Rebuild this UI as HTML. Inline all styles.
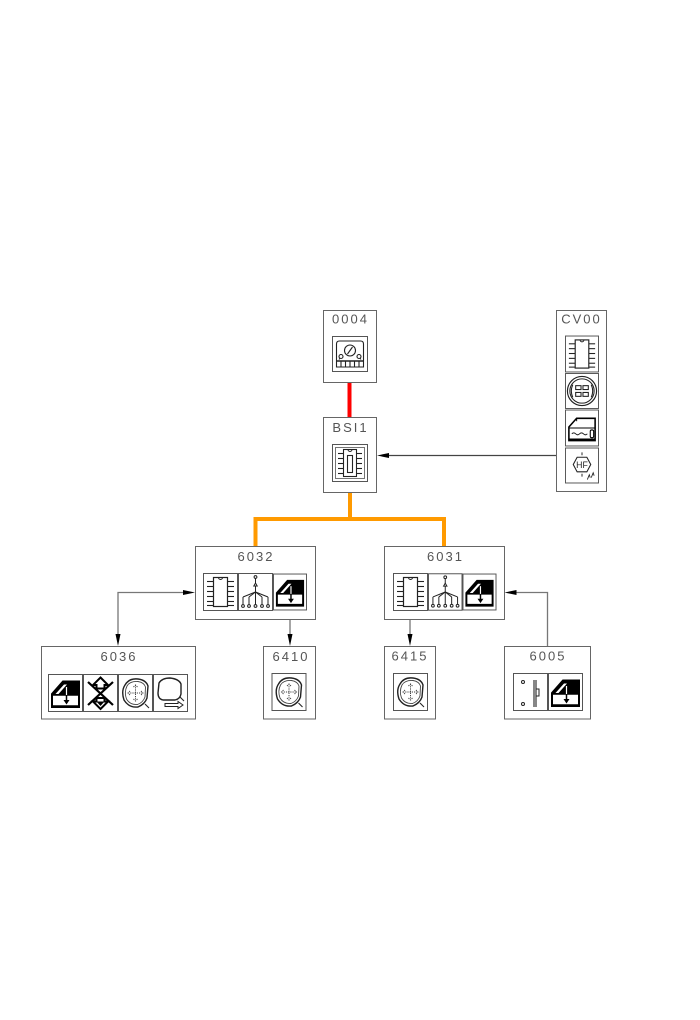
<!DOCTYPE html>
<html>
<head>
<meta charset="utf-8">
<style>
html,body{margin:0;padding:0;background:#fff;}
body{width:700px;height:1020px;overflow:hidden;}
svg{display:block;}
text{font-family:"Liberation Sans",sans-serif;font-size:13px;letter-spacing:2px;fill:#555;}
</style>
</head>
<body>
<svg width="700" height="1020" viewBox="0 0 700 1020" xmlns="http://www.w3.org/2000/svg">
<defs>
  <symbol id="chip" viewBox="0 0 35 38">
    <rect x="0.5" y="0.5" width="34" height="37" fill="#fff" stroke="#555" stroke-width="1"/>
    <rect x="10.5" y="4.5" width="14" height="29" fill="#fff" stroke="#222" stroke-width="1.2"/>
    <path d="M15.5 4.5 a2 2 0 0 0 4 0" fill="none" stroke="#222" stroke-width="1"/>
    <g stroke="#222" stroke-width="1.1">
      <line x1="4" y1="8.5" x2="10.5" y2="8.5"/><line x1="4" y1="13.5" x2="10.5" y2="13.5"/>
      <line x1="4" y1="18.5" x2="10.5" y2="18.5"/><line x1="4" y1="23.5" x2="10.5" y2="23.5"/>
      <line x1="4" y1="28.5" x2="10.5" y2="28.5"/><line x1="4" y1="32.5" x2="10.5" y2="32.5"/>
      <line x1="24.5" y1="8.5" x2="31" y2="8.5"/><line x1="24.5" y1="13.5" x2="31" y2="13.5"/>
      <line x1="24.5" y1="18.5" x2="31" y2="18.5"/><line x1="24.5" y1="23.5" x2="31" y2="23.5"/>
      <line x1="24.5" y1="28.5" x2="31" y2="28.5"/><line x1="24.5" y1="32.5" x2="31" y2="32.5"/>
    </g>
  </symbol>
  <symbol id="chip2" viewBox="0 0 36 38">
    <rect x="0.5" y="0.5" width="35" height="37" fill="#fff" stroke="#555" stroke-width="1"/>
    <rect x="3.5" y="3.5" width="29" height="31" fill="none" stroke="#666" stroke-width="0.9"/>
    <rect x="11.5" y="5.5" width="13" height="27" fill="#fff" stroke="#222" stroke-width="1.1"/>
    <path d="M16 5.5 a2 2 0 0 0 4 0" fill="none" stroke="#222" stroke-width="1"/>
    <rect x="15.5" y="11.5" width="5" height="17" fill="none" stroke="#222" stroke-width="1.1"/>
    <g stroke="#222" stroke-width="1.1">
      <line x1="6" y1="9.5" x2="11.5" y2="9.5"/><line x1="6" y1="14.5" x2="11.5" y2="14.5"/>
      <line x1="6" y1="19.5" x2="11.5" y2="19.5"/><line x1="6" y1="24.5" x2="11.5" y2="24.5"/>
      <line x1="6" y1="29.5" x2="11.5" y2="29.5"/>
      <line x1="24.5" y1="9.5" x2="30" y2="9.5"/><line x1="24.5" y1="14.5" x2="30" y2="14.5"/>
      <line x1="24.5" y1="19.5" x2="30" y2="19.5"/><line x1="24.5" y1="24.5" x2="30" y2="24.5"/>
      <line x1="24.5" y1="29.5" x2="30" y2="29.5"/>
    </g>
  </symbol>
  <symbol id="tree" viewBox="0 0 35 38">
    <rect x="0.5" y="0.5" width="34" height="37" fill="#fff" stroke="#555" stroke-width="1"/>
    <g stroke="#222" stroke-width="1" fill="#fff">
      <circle cx="17.5" cy="4" r="1.4"/>
      <line x1="17.5" y1="5.5" x2="17.5" y2="10"/>
      <path d="M15.8 13 L19.2 13 L17.5 10 Z"/>
      <line x1="17.5" y1="13" x2="17.5" y2="31.5"/>
      <line x1="17.5" y1="19" x2="5" y2="24"/><line x1="17.5" y1="19" x2="11" y2="24"/>
      <line x1="17.5" y1="19" x2="24" y2="24"/><line x1="17.5" y1="19" x2="30" y2="24"/>
      <line x1="5" y1="24" x2="5" y2="31.5"/><line x1="11" y1="24" x2="11" y2="31.5"/>
      <line x1="24" y1="24" x2="24" y2="31.5"/><line x1="30" y1="24" x2="30" y2="31.5"/>
      <circle cx="5" cy="33" r="1.4"/><circle cx="11" cy="33" r="1.4"/>
      <circle cx="17.5" cy="33" r="1.4"/><circle cx="24" cy="33" r="1.4"/><circle cx="30" cy="33" r="1.4"/>
    </g>
  </symbol>
  <symbol id="win" viewBox="0 0 35 38">
    <rect x="0.5" y="0.5" width="34" height="37" fill="#fff" stroke="#555" stroke-width="1"/>
    <path d="M4 21 L15 8 L31 8 L31 21 Z" fill="#000"/>
    <path d="M7.5 20 L16 10.5 L19 10.5 L10.5 20 Z" fill="#fff"/>
    <path d="M4 33 L4 20 L15 7.5 L31 7.5 L31 33 Z" fill="none" stroke="#000" stroke-width="2"/>
    <line x1="4" y1="21" x2="31" y2="21" stroke="#000" stroke-width="1.5"/>
    <line x1="18.5" y1="13" x2="18.5" y2="21" stroke="#fff" stroke-width="1.2"/>
    <line x1="18.5" y1="21" x2="18.5" y2="27" stroke="#000" stroke-width="1.5"/>
    <path d="M15.5 26 L21.5 26 L18.5 30.5 Z" fill="#000"/>
    <line x1="4" y1="32.5" x2="31" y2="32.5" stroke="#000" stroke-width="2.5"/>
  </symbol>
  <symbol id="gauge" viewBox="0 0 36 36">
    <rect x="0.5" y="0.5" width="35" height="35" fill="#fff" stroke="#555" stroke-width="1"/>
    <path d="M4.5 31 L4.5 8 Q4.5 5 7.5 5 L28.5 5 Q31.5 5 31.5 8 L31.5 31 Z" fill="none" stroke="#222" stroke-width="1.1"/>
    <circle cx="18" cy="14.5" r="5.5" fill="none" stroke="#222" stroke-width="1.1"/>
    <line x1="15.5" y1="18" x2="20.5" y2="11" stroke="#222" stroke-width="1.1"/>
    <circle cx="9" cy="20.5" r="2" fill="none" stroke="#222" stroke-width="1.1"/>
    <circle cx="27" cy="20.5" r="2" fill="none" stroke="#222" stroke-width="1.1"/>
    <line x1="8" y1="22" x2="7" y2="23.5" stroke="#222"/>
    <line x1="28" y1="22" x2="29" y2="23.5" stroke="#222"/>
    <line x1="4.5" y1="25" x2="31.5" y2="25" stroke="#222" stroke-width="1.6"/>
    <g stroke="#222" stroke-width="1.1">
      <line x1="9" y1="25" x2="9" y2="31"/><line x1="13.5" y1="25" x2="13.5" y2="31"/>
      <line x1="18" y1="25" x2="18" y2="31"/><line x1="22.5" y1="25" x2="22.5" y2="31"/>
      <line x1="27" y1="25" x2="27" y2="31"/>
    </g>
  </symbol>
  <symbol id="speaker" viewBox="0 0 35 37">
    <rect x="0.5" y="0.5" width="34" height="36" fill="#fff" stroke="#555" stroke-width="1"/>
    <circle cx="17.5" cy="18.5" r="15" fill="none" stroke="#222" stroke-width="1.2"/>
    <circle cx="17.5" cy="18.5" r="12.5" fill="none" stroke="#222" stroke-width="1.1"/>
    <path d="M8 12 Q5 18.5 8 25" fill="none" stroke="#222" stroke-width="1.1"/>
    <path d="M27 12 Q30 18.5 27 25" fill="none" stroke="#222" stroke-width="1.1"/>
    <g fill="none" stroke="#222" stroke-width="1.1">
      <rect x="11" y="13" width="5.5" height="4"/><rect x="18.5" y="13" width="5.5" height="4"/>
      <rect x="11" y="20" width="5.5" height="4"/><rect x="18.5" y="20" width="5.5" height="4"/>
    </g>
  </symbol>
  <symbol id="radio" viewBox="0 0 35 38">
    <rect x="0.5" y="0.5" width="34" height="37" fill="#fff" stroke="#555" stroke-width="1"/>
    <path d="M4 32 L4 18 L12 9 L31 9 L31 32 Z" fill="#fff" stroke="#000" stroke-width="1.6"/>
    <line x1="4" y1="19" x2="31" y2="19" stroke="#000" stroke-width="1.1"/>
    <line x1="12" y1="9" x2="12" y2="12" stroke="#000"/>
    <path d="M7 25 q2 -2 4 0 q2 2 4 0 q2 -2 4 0 q2 2 4 0" fill="none" stroke="#222" stroke-width="1"/>
    <rect x="26" y="21" width="3.5" height="8" rx="1.5" fill="#fff" stroke="#000" stroke-width="1.1"/>
    <line x1="4" y1="31" x2="31" y2="31" stroke="#000" stroke-width="2.5"/>
  </symbol>
  <symbol id="hf" viewBox="0 0 35 37">
    <rect x="0.5" y="0.5" width="34" height="36" fill="#fff" stroke="#555" stroke-width="1"/>
    <path d="M8.5 17.5 L12.5 10 L22.5 10 L26.5 17.5 L22.5 25 L12.5 25 Z" fill="none" stroke="#222" stroke-width="1.1"/>
    <line x1="17.5" y1="5" x2="17.5" y2="8" stroke="#222"/>
    <line x1="17.5" y1="27" x2="17.5" y2="30" stroke="#222"/>
    <text x="17.5" y="21" text-anchor="middle" style="font-size:9px;letter-spacing:0;fill:#222;">HF</text>
    <path d="M23 33 L25 28 L26 31 M27 31 L29 26 L30 29" fill="none" stroke="#222" stroke-width="0.9"/>
  </symbol>
  <symbol id="xarrow" viewBox="0 0 35 38">
    <rect x="0.5" y="0.5" width="34" height="37" fill="#fff" stroke="#555" stroke-width="1"/>
    <line x1="5" y1="8" x2="30" y2="31" stroke="#000" stroke-width="2.2"/>
    <line x1="30" y1="8" x2="5" y2="31" stroke="#000" stroke-width="2.2"/>
    <path d="M17.5 3.5 L25 11 L21.5 11 L21.5 14.5 L13.5 14.5 L13.5 11 L10 11 Z" fill="#fff" stroke="#000" stroke-width="2"/>
    <path d="M17.5 35 L25 27.5 L21.5 27.5 L21.5 24 L13.5 24 L13.5 27.5 L10 27.5 Z" fill="#fff" stroke="#000" stroke-width="2"/>
    <path d="M13.5 27.5 L21.5 27.5 L17.5 32 Z" fill="#000"/>
  </symbol>
  <symbol id="airbag" viewBox="0 0 35 38">
    <rect x="0.5" y="0.5" width="34" height="37" fill="#fff" stroke="#555" stroke-width="1"/>
    <path d="M7 11 Q11 4 20 5 Q28 6 30 12 L29 24 Q27 30 20 33 Q11 34 6 26 Q3 17 7 11 Z" fill="none" stroke="#222" stroke-width="1.4"/>
    <path d="M9 12 Q12 7 20 7.5 Q26 8.5 27.5 13 L27 23 Q25 28.5 19.5 30.5 Q12 31 8.5 25 Q6 18 9 12 Z" fill="none" stroke="#444" stroke-width="0.9"/>
    <g stroke="#444" stroke-width="1" fill="none" stroke-dasharray="1.2 1">
      <line x1="17.5" y1="11" x2="17.5" y2="27"/>
      <line x1="10" y1="19" x2="25" y2="19"/>
      <path d="M15.5 13 L17.5 11 L19.5 13 M15.5 25 L17.5 27 L19.5 25 M12 17 L10 19 L12 21 M23 17 L25 19 L23 21"/>
    </g>
    <line x1="27" y1="30" x2="31" y2="34" stroke="#222" stroke-width="1.1"/>
  </symbol>
  <symbol id="shapearrow" viewBox="0 0 35 38">
    <rect x="0.5" y="0.5" width="34" height="37" fill="#fff" stroke="#555" stroke-width="1"/>
    <path d="M6 9 Q9 4 17 4 Q26 5 28 10 L28 20 Q27 25 22 26 L10 26 Q5 25 5 19 Z" fill="none" stroke="#222" stroke-width="1.4"/>
    <line x1="27" y1="23" x2="31" y2="27" stroke="#222" stroke-width="1.1"/>
    <path d="M12 29.5 L25 29.5 L25 27.5 L30 31 L25 34.5 L25 32.5 L12 32.5 Z" fill="#fff" stroke="#222" stroke-width="1"/>
  </symbol>
  <symbol id="switch" viewBox="0 0 35 38">
    <rect x="0.5" y="0.5" width="34" height="37" fill="#fff" stroke="#555" stroke-width="1"/>
    <circle cx="10" cy="9" r="1.5" fill="none" stroke="#222" stroke-width="1"/>
    <circle cx="10" cy="31" r="1.5" fill="none" stroke="#222" stroke-width="1"/>
    <line x1="21" y1="7" x2="21" y2="34" stroke="#222" stroke-width="1.1"/>
    <line x1="23" y1="7" x2="23" y2="34" stroke="#222" stroke-width="1.1"/>
    <path d="M23 16 L26 16 L26 23 L23 23" fill="none" stroke="#222" stroke-width="1"/>
  </symbol>
</defs>

<line x1="349.5" y1="382" x2="349.5" y2="418" stroke="#FF0000" stroke-width="4"/>
<path d="M350 492 V519 M255.5 547 V519 H444 V547" fill="none" stroke="#FF9A00" stroke-width="4"/>

<g stroke="#777" stroke-width="1.3" fill="none">
  <line x1="556" y1="455.5" x2="386" y2="455.5" stroke="#444"/>
  <path d="M185 592.5 H118 V636"/>
  <line x1="290" y1="619" x2="290" y2="636"/>
  <line x1="410" y1="619" x2="410" y2="636"/>
  <path d="M547.5 646 V592.5 H514"/>
</g>
<g fill="#000">
  <path d="M377 455.5 L389 453 L389 458 Z"/>
  <path d="M195 592.5 L183 590 L183 595 Z"/>
  <path d="M118 646 L115.5 634 L120.5 634 Z"/>
  <path d="M290 646 L287.5 634 L292.5 634 Z"/>
  <path d="M410 646 L407.5 634 L412.5 634 Z"/>
  <path d="M504.5 592.5 L516.5 590 L516.5 595 Z"/>
</g>

<g fill="#fff" stroke="#666" stroke-width="1">
  <rect x="323.5" y="310.5" width="53" height="72"/>
  <rect x="323.5" y="417.5" width="53" height="75"/>
  <rect x="556.5" y="310.5" width="50" height="181"/>
  <rect x="195.5" y="546.5" width="120" height="73"/>
  <rect x="384.5" y="546.5" width="120" height="73"/>
  <rect x="41.5" y="646.5" width="154" height="72.5"/>
  <rect x="263.5" y="646.5" width="52" height="72.5"/>
  <rect x="384.5" y="646.5" width="51" height="72.5"/>
  <rect x="504.5" y="646.5" width="86" height="72.5"/>
</g>

<text x="350.5" y="323.5" text-anchor="middle">0004</text>
<text x="350.5" y="432" text-anchor="middle">BSI1</text>
<text x="581.5" y="323.5" text-anchor="middle">CV00</text>
<text x="256" y="561" text-anchor="middle">6032</text>
<text x="445.5" y="561" text-anchor="middle">6031</text>
<text x="119" y="661" text-anchor="middle">6036</text>
<text x="291" y="661" text-anchor="middle">6410</text>
<text x="410" y="660.5" text-anchor="middle">6415</text>
<text x="548" y="660.5" text-anchor="middle">6005</text>

<use href="#gauge" x="332" y="336" width="36" height="36"/>
<use href="#chip2" x="332" y="444" width="36" height="38"/>

<use href="#chip" x="565" y="335" width="34" height="38"/>
<use href="#speaker" x="565" y="373" width="34" height="36"/>
<use href="#radio" x="565" y="409" width="34" height="38"/>
<use href="#hf" x="565" y="447" width="34" height="37"/>

<use href="#chip" x="203" y="573" width="35" height="38"/>
<use href="#tree" x="238" y="573" width="35" height="38"/>
<use href="#win" x="273" y="573" width="34" height="38"/>

<use href="#chip" x="393" y="573" width="35" height="38"/>
<use href="#tree" x="428" y="573" width="34.5" height="38"/>
<use href="#win" x="462.5" y="573" width="34" height="38"/>

<use href="#win" x="48" y="674" width="35" height="38"/>
<use href="#xarrow" x="83" y="674" width="35" height="38"/>
<use href="#airbag" x="118" y="674" width="35" height="38"/>
<use href="#shapearrow" x="153" y="674" width="35" height="38"/>

<use href="#airbag" x="271" y="673" width="36" height="38"/>
<use href="#airbag" x="393" y="673" width="35" height="38"/>

<use href="#switch" x="513" y="673" width="35" height="38"/>
<use href="#win" x="548" y="673" width="35" height="38"/>
</svg>
</body>
</html>
